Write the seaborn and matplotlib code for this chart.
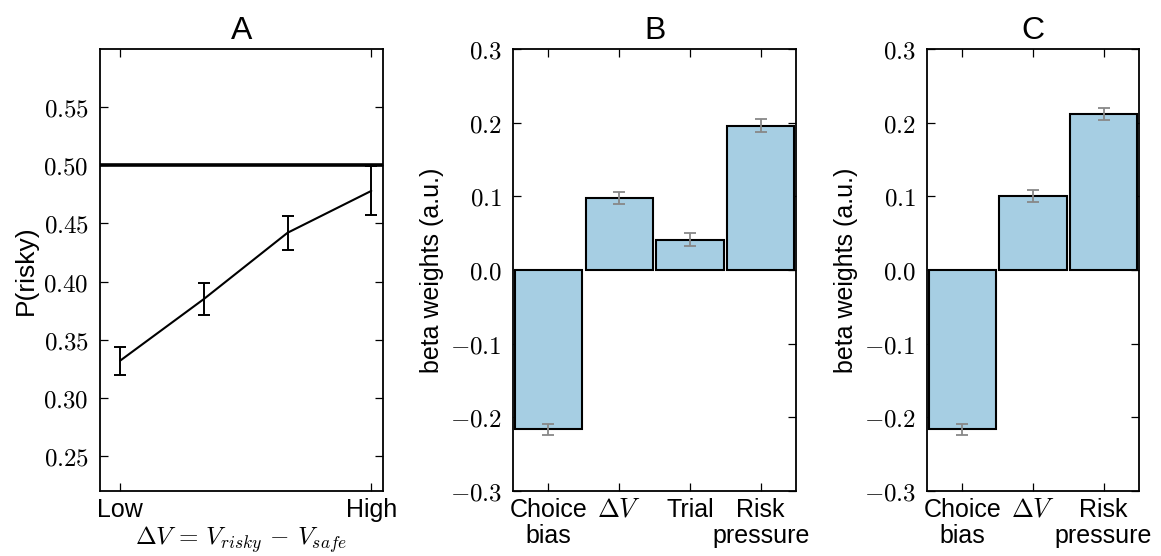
import matplotlib
matplotlib.use("Agg")
import matplotlib.pyplot as plt
import seaborn as sns
import numpy as np
import pandas as pd

# ---------------- data ----------------
dv_levels = [0, 1, 2, 3]
dv_ticklabels = ["Low", "High"]
p_risky = [0.332, 0.385, 0.442, 0.478]
p_risky_err = [0.012, 0.014, 0.0145, 0.021]

b_labels = ["Choice\nbias", r"$\Delta V$", "Trial", "Risk\npressure"]
b_values = [-0.216, 0.098, 0.041, 0.196]
b_err = [0.0075, 0.008, 0.009, 0.009]

c_labels = ["Choice\nbias", r"$\Delta V$", "Risk\npressure"]
c_values = [-0.216, 0.100, 0.212]
c_err = [0.0075, 0.008, 0.008]

a_yticks = [0.25, 0.30, 0.35, 0.40, 0.45, 0.50, 0.55]
bc_yticks = [-0.3, -0.2, -0.1, 0.0, 0.1, 0.2, 0.3]

# ---------------- style ----------------
sns.set_style("white")
plt.rcParams["font.family"] = ["Liberation Sans", "DejaVu Sans"]
plt.rcParams["mathtext.fontset"] = "cm"
plt.rcParams["axes.edgecolor"] = "black"
plt.rcParams["text.color"] = "black"
plt.rcParams["axes.labelcolor"] = "black"
plt.rcParams["xtick.color"] = "black"
plt.rcParams["ytick.color"] = "black"

BAR_COLOR = "#a6cee3"
SPINE_W = 1.3

fig = plt.figure(figsize=(11.61, 5.56), dpi=100)
axA = fig.add_axes([0.0861, 0.1169, 0.2438, 0.795])
axB = fig.add_axes([0.4419, 0.1169, 0.2438, 0.795])
axC = fig.add_axes([0.7984, 0.1169, 0.1826, 0.795])


def style_ticks(ax):
    ax.tick_params(axis="both", which="both", direction="in", length=6, width=0.9,
                   top=True, right=True, bottom=True, left=True, colors="black",
                   labelcolor="black")
    ax.tick_params(axis="y", pad=8)
    ax.tick_params(axis="x", pad=5)
    for s in ax.spines.values():
        s.set_visible(True)
        s.set_linewidth(SPINE_W)
        s.set_color("black")


def math_ticks(ax, ticks, fmt):
    ax.set_yticks(ticks)
    ax.set_yticklabels(["$" + (fmt % t) + "$" for t in ticks], fontsize=18)


# ---------------- panel A ----------------
dfA = pd.DataFrame({"dv": dv_levels, "p": p_risky})
sns.lineplot(data=dfA, x="dv", y="p", color="black", linewidth=1.5, ax=axA)
axA.errorbar(dfA["dv"], dfA["p"], yerr=p_risky_err, fmt="none", ecolor="black",
             elinewidth=1.4, capsize=4, capthick=1.4)
axA.axhline(0.5, color="black", linewidth=2.6)
axA.set_xlim(-0.24, 3.14)
axA.set_ylim(0.22, 0.60)
axA.set_xticks([dv_levels[0], dv_levels[-1]])
axA.set_xticklabels(dv_ticklabels, fontsize=18)
math_ticks(axA, a_yticks, "%.2f")
axA.set_ylabel("P(risky)", fontsize=19, labelpad=4)
axA.set_xlabel(r"$\Delta V\,=\,V_{risky}\,-\,V_{safe}$", fontsize=18, labelpad=2)
axA.set_title("A", fontsize=23, pad=7)
style_ticks(axA)


# ---------------- panels B, C ----------------
def bar_panel(ax, labels, values, errs, title):
    df = pd.DataFrame({"name": labels, "beta": values})
    sns.barplot(data=df, x="name", y="beta", color=BAR_COLOR, edgecolor="black",
                linewidth=1.5, width=0.95, saturation=1, errorbar=None, ax=ax)
    ax.errorbar(np.arange(len(values)), values, yerr=errs, fmt="none", ecolor="#888888",
                elinewidth=1.3, capsize=4, capthick=1.3)
    ax.set_xlim(-0.5, len(values) - 0.5)
    ax.set_ylim(-0.3, 0.3)
    ax.set_xticks(np.arange(len(values)))
    ax.set_xticklabels(labels, fontsize=18, linespacing=1.1)
    math_ticks(ax, bc_yticks, "%.1f")
    ax.set_xlabel("")
    ax.set_ylabel("beta weights (a.u.)", fontsize=18, labelpad=4)
    ax.set_title(title, fontsize=23, pad=7)
    style_ticks(ax)
    for lab in ax.get_xticklabels():
        if "Delta" in lab.get_text():
            lab.set_fontsize(19)


bar_panel(axB, b_labels, b_values, b_err, "B")
bar_panel(axC, c_labels, c_values, c_err, "C")

fig.savefig("out.png", dpi=100, facecolor="white")
